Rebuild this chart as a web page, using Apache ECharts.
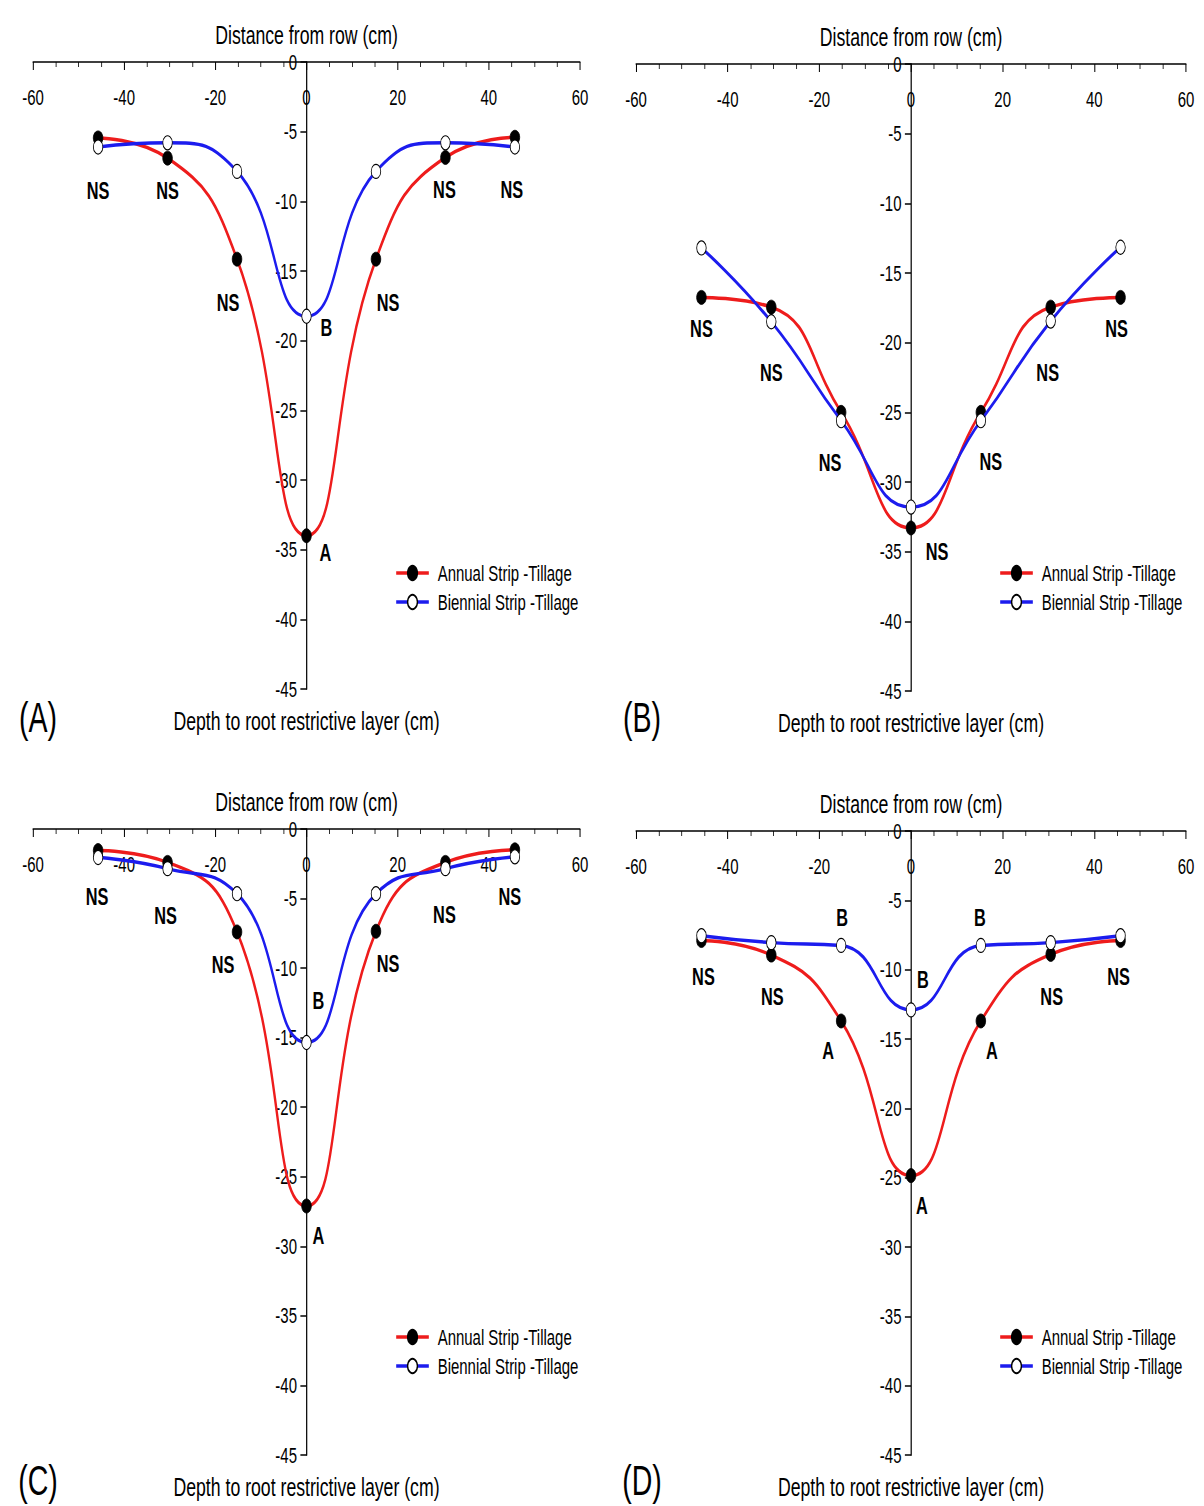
<!DOCTYPE html>
<html>
<head>
<meta charset="utf-8">
<script src="https://cdn.jsdelivr.net/npm/echarts@6/dist/echarts.min.js"></script>
<style>
  html, body { margin: 0; padding: 0; background: #fff; overflow: hidden; }
  #chart { height: 1506px; transform-origin: 0 0; }
</style>
</head>
<body>
<div id="chart"></div>
<script>
// Sampling positions across the row (6, 12 and 18 in. either side), cm
const distance = [-45.72, -30.48, -15.24, 0, 15.24, 30.48, 45.72];

// (A)
const annualA   = [-5.45, -6.9, -14.15, -34.0, -14.15, -6.85, -5.4];
const biennialA = [-6.1, -5.8, -7.85, -18.25, -7.85, -5.8, -6.1];
const lettersAnnualA   = ['NS', 'NS', 'NS', 'A', 'NS', 'NS', 'NS'];
const lettersBiennialA = ['', '', '', 'B', '', '', ''];

// (B)
const annualB   = [-16.75, -17.45, -25.0, -33.3, -25.0, -17.45, -16.75];
const biennialB = [-13.2, -18.5, -25.6, -31.8, -25.6, -18.45, -13.15];
const lettersAnnualB   = ['NS', '', '', 'NS', '', '', 'NS'];
const lettersBiennialB = ['', 'NS', 'NS', '', 'NS', 'NS', ''];

// (C)
const annualC   = [-1.55, -2.4, -7.4, -27.1, -7.35, -2.4, -1.5];
const biennialC = [-2.05, -2.85, -4.65, -15.35, -4.65, -2.85, -2.0];
const lettersAnnualC   = ['', '', 'NS', 'A', 'NS', '', ''];
const lettersBiennialC = ['NS', 'NS', '', 'B', '', 'NS', 'NS'];

// (D)
const annualD   = [-7.9, -8.95, -13.7, -24.85, -13.7, -8.9, -7.9];
const biennialD = [-7.55, -8.05, -8.25, -12.9, -8.25, -8.05, -7.55];
const lettersAnnualD   = ['NS', 'NS', 'A', 'A', 'A', 'NS', 'NS'];
const lettersBiennialD = ['', '', 'B', 'B', 'B', '', ''];

const seriesNames = ['Annual Strip -Tillage', 'Biennial Strip -Tillage'];
const panelTags = ['(A)', '(B)', '(C)', '(D)'];
const xAxisTitle = 'Distance from row (cm)';
const yAxisTitle = 'Depth to root restrictive layer (cm)';

// ---- layout (screen px; the figure is drawn wide and squeezed horizontally by K) ----
const K = 0.68;
const sx = v => v / K;
const FONT = '"Liberation Sans", Arial, Helvetica, sans-serif';
const RED = '#ee1c1c';
const BLUE = '#1c1cee';

const layout = [
  { box: [33, 62, 580, 689], legend: [395, 562], tag: [38, 717],
    offAnnual: [[0, 52], [0, 32], [-9, 43], [19, 16], [12, 43], [-1, 32], [-3, 52]],
    offBiennial: [null, null, null, [20, 11], null, null, null] },
  { box: [636, 64, 1186, 691], legend: [999, 562], tag: [642, 717],
    offAnnual: [[0, 31], null, null, [26, 23], null, null, [-4, 31]],
    offBiennial: [null, [0, 50], [-11, 42], null, [10, 41], [-3, 51], null] },
  { box: [33, 829, 580, 1455], legend: [395, 1326], tag: [38, 1480],
    offAnnual: [null, null, [-14, 32], [12, 29], [12, 32], null, null],
    offBiennial: [[-1, 39], [-2, 47], null, [12, -42], null, [-1, 46], [-5, 39]] },
  { box: [636, 831, 1186, 1455], legend: [999, 1326], tag: [642, 1480],
    offAnnual: [[2, 36], [1, 41], [-13, 29], [11, 30], [11, 29], [1, 42], [-2, 36]],
    offBiennial: [null, null, [1, -28], [12, -31], [-1, -28], null, null] }
];

const panelData = [
  [annualA, biennialA, lettersAnnualA, lettersBiennialA],
  [annualB, biennialB, lettersAnnualB, lettersBiennialB],
  [annualC, biennialC, lettersAnnualC, lettersBiennialC],
  [annualD, biennialD, lettersAnnualD, lettersBiennialD]
];

const chartDom = document.getElementById('chart');
chartDom.style.width = Math.round(1204 / K) + 'px';
chartDom.style.transform = 'scaleX(' + K + ')';

function seriesData(values, letters, offsets) {
  return distance.map((d, i) => {
    const item = { value: [d, values[i]] };
    if (letters[i] && offsets[i]) {
      item.label = {
        show: true,
        formatter: letters[i],
        position: 'inside',
        offset: [sx(offsets[i][0]), offsets[i][1]],
        fontSize: 24,
        fontWeight: 'bold',
        fontFamily: FONT,
        color: '#000'
      };
    }
    return item;
  });
}

const grid = [], xAxis = [], yAxis = [], series = [], legend = [], graphic = [];

layout.forEach((L, p) => {
  const [x0, y0, x1, y1] = L.box;
  const [annual, biennial, lettersA, lettersB] = panelData[p];
  grid.push({ left: sx(x0), top: y0, width: sx(x1 - x0), height: y1 - y0, containLabel: false });

  xAxis.push({
    type: 'value', gridIndex: p, position: 'top',
    min: -60, max: 60, interval: 20,
    name: xAxisTitle, nameLocation: 'middle', nameGap: 14,
    nameTextStyle: { fontSize: 26, color: '#000', fontFamily: FONT },
    axisLine: { onZero: false, lineStyle: { color: '#000', width: 1.5 } },
    axisTick: { inside: true, length: 8, lineStyle: { color: '#000', width: 1.5 } },
    minorTick: { show: true, splitNumber: 4, length: 5, lineStyle: { color: '#000', width: 1.2 } },
    axisLabel: { inside: true, margin: 24, fontSize: 22, color: '#000', fontFamily: FONT },
    splitLine: { show: false }
  });

  // vertical axis sits on the row centre (x = 0), half the plot width in from the left edge
  yAxis.push({
    type: 'value', gridIndex: p, position: 'left',
    offset: -sx((x1 - x0) / 2),
    min: -45, max: 0, interval: 5,
    name: yAxisTitle, nameLocation: 'start', nameGap: 19,
    nameTextStyle: { fontSize: 26, color: '#000', fontFamily: FONT },
    axisLine: { onZero: false, lineStyle: { color: '#000', width: 1.8 } },
    axisTick: { inside: false, length: 9, lineStyle: { color: '#000', width: 1.5 } },
    axisLabel: { margin: 14, fontSize: 22, color: '#000', fontFamily: FONT },
    splitLine: { show: false }
  });

  series.push({
    name: seriesNames[0], type: 'line', xAxisIndex: p, yAxisIndex: p,
    smooth: 0.5, symbol: 'circle', symbolSize: 14,
    lineStyle: { color: RED, width: 3.5 },
    itemStyle: { color: '#000', borderColor: '#000', borderWidth: 1 },
    data: seriesData(annual, lettersA, L.offAnnual),
    z: 2
  });
  series.push({
    name: seriesNames[1], type: 'line', xAxisIndex: p, yAxisIndex: p,
    smooth: 0.5, symbol: 'circle', symbolSize: 14,
    lineStyle: { color: BLUE, width: 3.5 },
    itemStyle: { color: '#fff', borderColor: '#000', borderWidth: 1.2 },
    data: seriesData(biennial, lettersB, L.offBiennial),
    z: 3
  });

  legend.push({
    data: seriesNames, orient: 'vertical',
    left: sx(L.legend[0]), top: L.legend[1],
    itemWidth: 48, itemHeight: 18, itemGap: 7, padding: 0,
    selectedMode: false,
    lineStyle: { width: 3.5 },
    textStyle: { fontSize: 22, lineHeight: 22, color: '#000', fontFamily: FONT, padding: [0, 0, 0, 8] }
  });

  graphic.push({
    type: 'text', x: sx(L.tag[0]), y: L.tag[1],
    style: { text: panelTags[p], fontSize: 42, fontFamily: FONT, fill: '#000',
             align: 'center', verticalAlign: 'middle' }
  });
});

const chart = echarts.init(chartDom, null, { renderer: 'svg' });
chart.setOption({
  backgroundColor: '#fff',
  animation: false,
  grid, xAxis, yAxis, series, legend, graphic
});
</script>
</body>
</html>
